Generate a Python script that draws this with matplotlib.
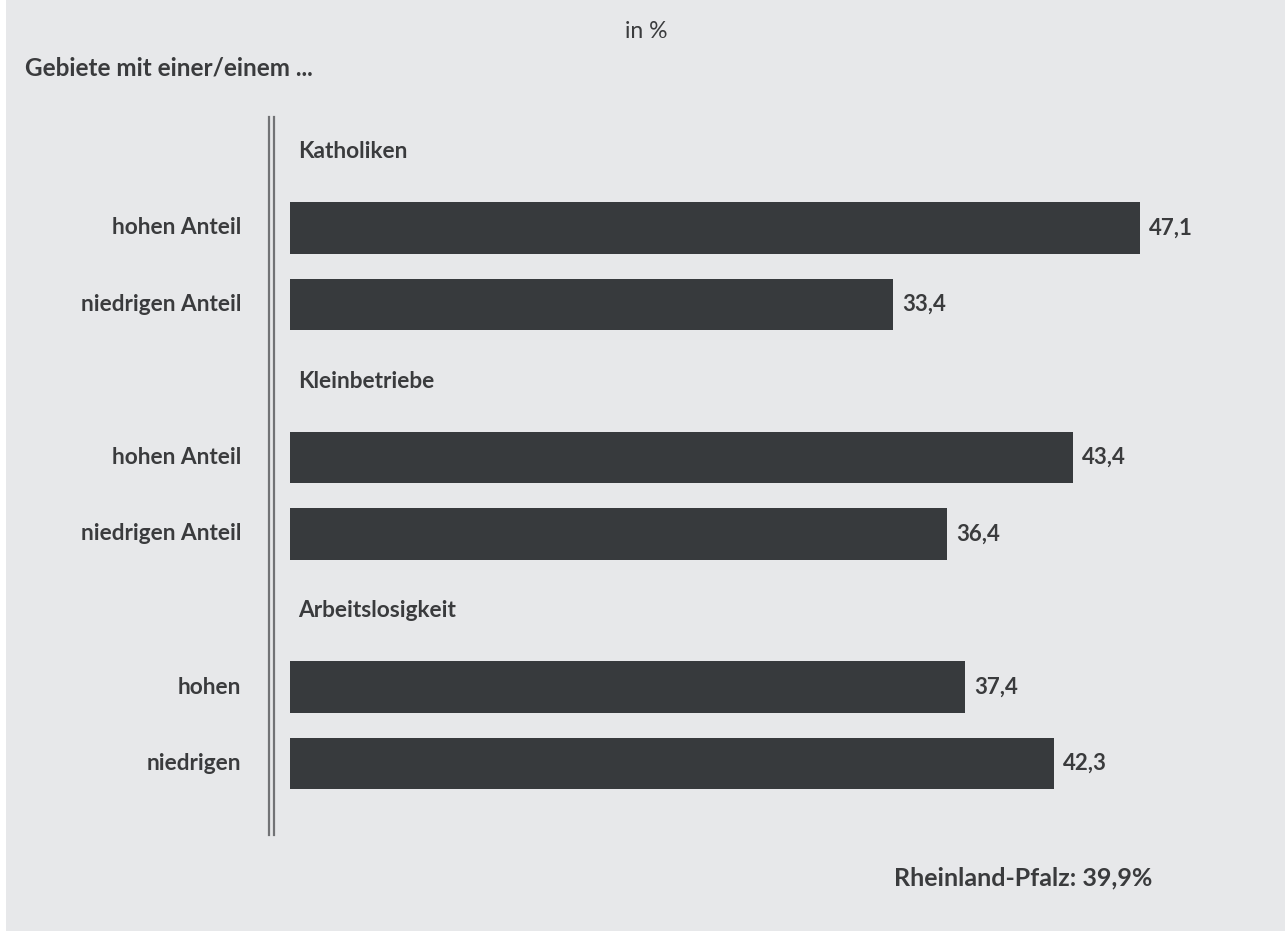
import matplotlib.pyplot as plt
from matplotlib.patches import Rectangle

# data
groups = ["Katholiken", "Kleinbetriebe", "Arbeitslosigkeit"]
bar_labels = [
    ["hohen Anteil", "niedrigen Anteil"],
    ["hohen Anteil", "niedrigen Anteil"],
    ["hohen", "niedrigen"],
]
values = [
    [47.1, 33.4],
    [43.4, 36.4],
    [37.4, 42.3],
]
total_label = "Rheinland-Pfalz: 39,9%"

bg = "#e7e8ea"
bar_col = "#373a3d"
txt_col = "#3a3b3d"

plt.rcParams["font.family"] = ["Lato", "DejaVu Sans"]

W, H = 1285, 931
fig = plt.figure(figsize=(W / 100, H / 100), dpi=100)
fig.patch.set_facecolor(bg)
# thin white strip on left edge
fig.patches.append(Rectangle((0, 0), 6 / W, 1, transform=fig.transFigure,
                             facecolor="white", edgecolor="none"))

# axes: x=0 at pixel 290, 18.05 px per unit; rows 76.5 px apart
x0_px, px_per_unit = 290, 18.05
top_px, bot_px = 117, 835
ax = fig.add_axes([x0_px / W, 1 - bot_px / H, 50 * px_per_unit / W, (bot_px - top_px) / H])
ax.set_facecolor("none")
ax.set_xlim(0, 50)
row0, step = 151.5, 76.5
ax.set_ylim((bot_px - row0) / step, (top_px - row0) / step)
for s in ax.spines.values():
    s.set_visible(False)
ax.set_xticks([])
ax.set_yticks([])

# double vertical line
for px in (269, 274):
    ax.axvline((px - x0_px) / px_per_unit, color="#727376", lw=1.6, clip_on=False)

fs = 16.3
row = 0
for g, labs, vals in zip(groups, bar_labels, values):
    ax.text(8 / px_per_unit, row, g, ha="left", va="center", fontsize=fs,
            fontweight="bold", color=txt_col)
    for lab, v in zip(labs, vals):
        row += 1
        ax.barh(row, v, height=0.67, color=bar_col)
        ax.text(-49 / px_per_unit, row, lab, ha="right", va="center", fontsize=fs,
                fontweight="bold", color=txt_col)
        ax.annotate(f"{v:.1f}".replace(".", ","), (v, row), xytext=(6.5, 0),
                    textcoords="offset points", ha="left", va="center",
                    fontsize=16, fontweight="bold", color=txt_col)
    row += 1

fig.text(646 / W, 1 - 32 / H, "in %", ha="center", va="center", fontsize=16.5, color=txt_col)
fig.text(25 / W, 1 - 68 / H, "Gebiete mit einer/einem ...", ha="left", va="center",
         fontsize=17.5, fontweight="bold", color=txt_col)
fig.text(1152 / W, 1 - 878 / H, total_label, ha="right", va="center",
         fontsize=18, fontweight="bold", color=txt_col)

fig.savefig("out.png", dpi=100, facecolor=bg)
